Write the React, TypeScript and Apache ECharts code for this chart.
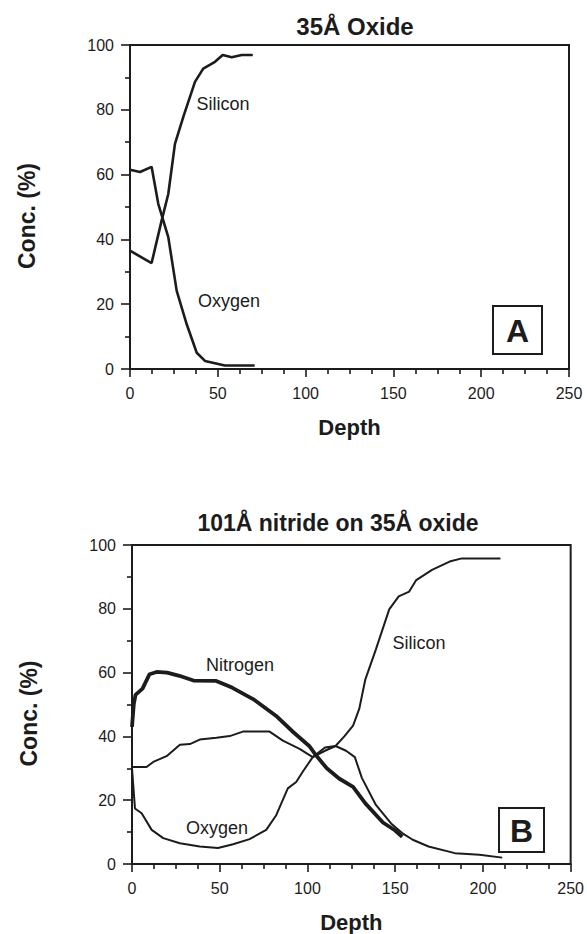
import React, { useEffect, useRef } from "react";
import * as echarts from "echarts";

// ---- Data ----
const xTicks = [0, 50, 100, 150, 200, 250];
const yTicks = [0, 20, 40, 60, 80, 100];

// Panel A: 35Å Oxide
const siliconA_depth = [0, 12.3, 18, 21.8, 25.6, 30.4, 37, 41.7, 48.4, 52.8, 57.9, 63.6, 69.9];
const siliconA_conc = [36.5, 32.7, 45.8, 54, 69.5, 77.9, 88.6, 92.7, 94.8, 96.9, 96.2, 96.9, 96.9];
const oxygenA_depth = [0, 5.7, 12.3, 16.1, 21.8, 26.6, 32.3, 38, 42.7, 54, 71];
const oxygenA_conc = [61.5, 60.8, 62.4, 51, 40.7, 24.1, 13.8, 5, 2.5, 1.1, 1.1];

// Panel B: 101Å nitride on 35Å oxide
const nitrogenB_depth = [0, 1, 2, 6, 10, 14, 20, 27, 35, 48, 57, 69, 82, 92, 101, 105, 111, 118, 126, 133, 143, 150, 154];
const nitrogenB_conc = [43, 50, 53, 55, 59.5, 60.2, 60, 59, 57.5, 57.4, 55.3, 51.7, 46.5, 41.3, 37, 34, 30, 26.8, 24.2, 19, 13, 10.5, 8.5];
const oxygenB_depth = [0, 1.7, 5.5, 11.2, 17.8, 27.3, 38.6, 49, 57.6, 67, 76.5, 82.2, 88.8, 93.6, 97.3, 103, 110, 116, 122, 127, 131, 139, 148, 154, 160, 169, 184, 198, 211];
const oxygenB_conc = [30, 17.4, 15.9, 10.7, 8.1, 6.5, 5.5, 5, 6.2, 7.8, 10.7, 15.3, 23.7, 25.7, 28.9, 33.5, 36.5, 37, 35.5, 33.5, 27, 18.5, 12.5, 9.7, 7.6, 5.5, 3.4, 2.9, 2];
const siliconB_depth = [0, 8.3, 12.1, 19.7, 27.3, 33, 38.6, 48.1, 55.7, 63.2, 78.4, 86, 95.5, 103, 110, 116, 121, 126, 129.5, 133, 139, 146.6, 152, 158, 162, 171, 181, 188, 210];
const siliconB_conc = [30.4, 30.4, 32, 33.8, 37.4, 37.6, 39, 39.6, 40.1, 41.5, 41.5, 38.7, 36.1, 33.5, 35.5, 37, 40, 43.4, 48.6, 57.9, 67.3, 79.8, 83.9, 85.4, 89, 92.2, 94.8, 95.8, 95.8];

const titles = ["35Å Oxide", "101Å nitride on 35Å oxide"];
const panelLetters = ["A", "B"];

const pairs = (xs: number[], ys: number[]) => xs.map((x, i) => [x, ys[i]]);

const FONT = "'Liberation Sans', Arial, Helvetica, sans-serif";
const INK = "#1c1c1c";

export default function App() {
  const ref = useRef<HTMLDivElement>(null);
  useEffect(() => {
    if (!ref.current) return;
    const chart = echarts.init(ref.current, null, { renderer: "svg" });

    const grids = [
      { left: 130, top: 45, width: 439, height: 324 },
      { left: 132, top: 545, width: 440, height: 321 },
    ];

    const xAxis = grids.map((_, i) => ({
      type: "value",
      gridIndex: i,
      min: xTicks[0],
      max: xTicks[xTicks.length - 1],
      interval: 50,
      name: "Depth",
      nameLocation: "middle",
      nameGap: 47,
      nameTextStyle: { fontFamily: FONT, fontSize: 22, fontWeight: "bold", color: INK },
      axisLine: { show: true, onZero: false, lineStyle: { color: INK, width: 2 } },
      axisTick: { show: true, inside: false, length: 8, lineStyle: { color: INK, width: 1.6 } },
      minorTick: { show: true, splitNumber: 4, length: 5, lineStyle: { color: INK, width: 1.6 } },
      axisLabel: { margin: 16, fontFamily: FONT, fontSize: 16, color: INK },
      splitLine: { show: false },
    }));

    const yAxis = grids.map((_, i) => ({
      type: "value",
      gridIndex: i,
      min: yTicks[0],
      max: yTicks[yTicks.length - 1],
      interval: 20,
      name: "Conc. (%)",
      nameLocation: "middle",
      nameGap: 92,
      nameTextStyle: {
        fontFamily: FONT,
        fontSize: 23,
        fontWeight: "bold",
        color: INK,
        padding: [0, 18, 0, 0],
      },
      axisLine: { show: true, onZero: false, lineStyle: { color: INK, width: 2 } },
      axisTick: { show: true, inside: false, length: 9, lineStyle: { color: INK, width: 1.6 } },
      minorTick: { show: true, splitNumber: 2, length: 5, lineStyle: { color: INK, width: 1.6 } },
      axisLabel: { margin: 16, fontFamily: FONT, fontSize: 16, color: INK },
      splitLine: { show: false },
    }));

    const line = (data: number[][], idx: number, width: number, name: string) => ({
      type: "line",
      name,
      xAxisIndex: idx,
      yAxisIndex: idx,
      data,
      showSymbol: false,
      symbol: "none",
      lineStyle: { color: INK, width },
      z: 3,
    });

    const text = (x: number, y: number, t: string, size: number, bold = false) => ({
      type: "text",
      x,
      y,
      style: {
        text: t,
        fontFamily: FONT,
        fontSize: size,
        fontWeight: bold ? "bold" : "normal",
        fill: INK,
        textAlign: "center",
        textVerticalAlign: "middle",
      },
      z: 10,
    });

    chart.setOption({
      animation: false,
      backgroundColor: "#ffffff",
      grid: grids.map((g) => ({ ...g, show: true, borderColor: INK, borderWidth: 2, backgroundColor: "transparent" })),
      xAxis,
      yAxis,
      series: [
        line(pairs(siliconA_depth, siliconA_conc), 0, 2.6, "Silicon"),
        line(pairs(oxygenA_depth, oxygenA_conc), 0, 2.6, "Oxygen"),
        line(pairs(nitrogenB_depth, nitrogenB_conc), 1, 3.8, "Nitrogen"),
        line(pairs(oxygenB_depth, oxygenB_conc), 1, 2, "Oxygen"),
        line(pairs(siliconB_depth, siliconB_conc), 1, 2, "Silicon"),
      ],
      graphic: [
        text(355, 26, titles[0], 24, true),
        text(338, 523, titles[1], 23, true),
        text(223, 104, "Silicon", 18),
        text(229, 301, "Oxygen", 18),
        text(240, 665, "Nitrogen", 18),
        text(217, 828, "Oxygen", 18),
        text(419, 643, "Silicon", 18),
        {
          type: "rect",
          shape: { x: 493, y: 306, width: 49, height: 48 },
          style: { fill: "#fff", stroke: INK, lineWidth: 2 },
          z: 9,
        },
        text(517.5, 331, panelLetters[0], 32, true),
        {
          type: "rect",
          shape: { x: 499, y: 808, width: 45, height: 44 },
          style: { fill: "#fff", stroke: INK, lineWidth: 2 },
          z: 9,
        },
        text(521.5, 831, panelLetters[1], 32, true),
      ],
    });
    return () => chart.dispose();
  }, []);

  return (
    <div
      ref={ref}
      style={{ position: "fixed", left: 0, top: 0, width: 587, height: 934, background: "#fff" }}
    />
  );
}
